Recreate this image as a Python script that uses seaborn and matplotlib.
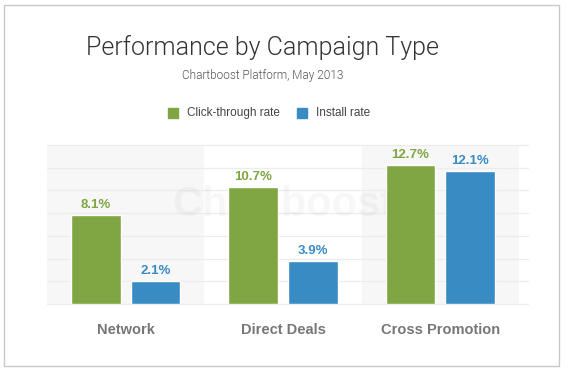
import numpy as np
import pandas as pd
import matplotlib.pyplot as plt
import seaborn as sns
from matplotlib.patches import Rectangle

# data
campaigns = ["Network", "Direct Deals", "Cross Promotion"]
ctr = [8.1, 10.7, 12.7]
install = [2.1, 3.9, 12.1]
series = ["Click-through rate", "Install rate"]
colors = ["#7fa642", "#398bc3"]

df = pd.DataFrame({
    "campaign": campaigns * 2,
    "rate": ctr + install,
    "series": [series[0]] * 3 + [series[1]] * 3,
})

sns.set_style("white")
plt.rcParams['font.family'] = ['Liberation Sans', 'DejaVu Sans']

fig = plt.figure(figsize=(5.68, 3.71), dpi=100)
fig.patch.set_facecolor("white")

# card border
fig.patches.append(Rectangle((4 / 568, 5 / 371), 555 / 568, 361 / 371,
                             transform=fig.transFigure, fill=False,
                             edgecolor="#c8c8c8", lw=1.0))

ax = fig.add_axes([47 / 568, 1 - 304 / 371, 472 / 568, 159 / 371])
ax.set_facecolor("white")

# alternating bands + grid
ax.axvspan(-0.5, 0.5, color="#f7f7f7", zorder=0, lw=0)
ax.axvspan(1.5, 2.5, color="#f7f7f7", zorder=0, lw=0)
ymax = 14.5
for y in np.linspace(0, ymax, 8):
    ax.axhline(y, color="#ececec", lw=0.9, zorder=0.5, xmax=1.02, clip_on=False)

ax.text(1.0, ymax * 0.62, "Chartboost", ha="center", va="center",
        fontsize=30, fontweight="bold", color="#000000", alpha=0.03, zorder=0.6)

sns.barplot(data=df, x="campaign", y="rate", hue="series", palette=colors,
            width=0.76, gap=0.17, saturation=1, ax=ax, legend=False, zorder=2)

for cont, col in zip(ax.containers, colors):
    labels = [f"{v:.1f}%" for v in cont.datavalues]
    ax.bar_label(cont, labels=labels, padding=3, color=col,
                 fontsize=9.5, fontweight="bold")

ax.set_xlim(-0.5, 2.5)
ax.set_ylim(0, ymax)
ax.set_xlabel("")
ax.set_ylabel("")
ax.set_yticks([])
ax.tick_params(axis="x", length=0, pad=14, labelsize=10.5, labelcolor="#777777")
for lbl in ax.get_xticklabels():
    lbl.set_fontweight("bold")
for s in ax.spines.values():
    s.set_visible(False)

# titles
cx = 263 / 568
fig.text(cx, 1 - 47 / 371, "Performance by Campaign Type", ha="center",
         va="center", fontsize=18, color="#333333", family="Roboto",
         fontweight=300)
fig.text(cx, 1 - 76 / 371, "Chartboost Platform, May 2013", ha="center",
         va="center", fontsize=8.5, color="#555555", family="Roboto",
         fontweight=300)

# legend
ly = 1 - 113 / 371
fig.patches.append(Rectangle((168 / 568, ly - 5 / 371), 10 / 568, 10 / 371,
                             transform=fig.transFigure, color=colors[0]))
fig.text(187 / 568, ly, series[0], va="center", fontsize=8.5, color="#444444")
fig.patches.append(Rectangle((297 / 568, ly - 5 / 371), 10 / 568, 10 / 371,
                             transform=fig.transFigure, color=colors[1]))
fig.text(316 / 568, ly, series[1], va="center", fontsize=8.5, color="#444444")

fig.savefig("out.png", dpi=100)
